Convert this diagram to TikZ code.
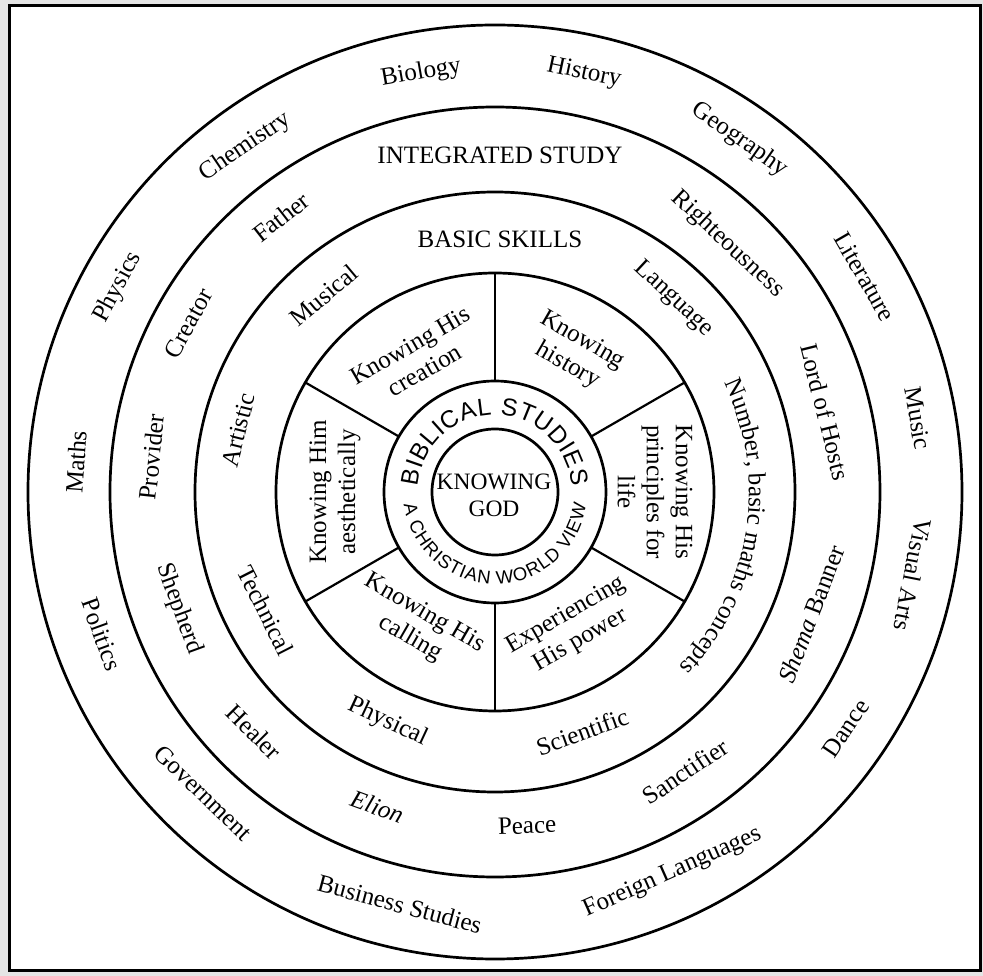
\documentclass[tikz,border=0pt]{standalone}
\usepackage{fontspec}
\setmainfont{Liberation Serif}
\setsansfont{Liberation Sans}
\usetikzlibrary{decorations.text}
\tikzset{
  ring/.style={line width=2.7pt},
  spoke/.style={line width=2.2pt},
  lbl/.style={font=\fontsize{25}{29}\selectfont, inner sep=0pt, align=center},
  godlbl/.style={font=\fontsize{23.5}{27}\selectfont, inner sep=0pt, align=center},
}
\begin{document}
\begin{tikzpicture}[x=1pt,y=1pt]
% background and frame
\fill[black!10] (-495,-484) rectangle (488,492);
\useasboundingbox (-495,-484) rectangle (488,492);
\draw[fill=white, line width=3pt] (-485.5,-479) rectangle (485.5,486.5);
% rings
\coordinate (c) at (0,0);
\draw[ring] (c) circle[radius=467];
\draw[ring] (c) circle[radius=385];
\draw[ring] (c) circle[radius=300];
\draw[ring] (c) circle[radius=219];
\draw[ring] (c) circle[radius=111];
\draw[ring] (c) circle[radius=63];
\foreach \a in {30,90,...,330} \draw[spoke] (\a:111) -- (\a:219);
% outer ring
\node[lbl, rotate=10]  (biology)   at (100:425.5) {Biology};
\node[lbl, rotate=-12] (history)   at (78:428)    {History};
\node[lbl, rotate=34]  (chemistry) at (125.9:426) {Chemistry};
\node[lbl, rotate=-35] (geography) at (55.2:429)  {Geography};
\node[lbl, rotate=61.5](physics)   at (151.5:429) {Physics};
\node[lbl, rotate=-60] (literature) at (30.2:428) {Literature};
\node[lbl, rotate=86]  (maths)     at (175.9:420) {Maths};
\node[lbl, rotate=-80] (music)     at (9.9:429)   {Music};
\node[lbl, rotate=-101](visual)    at (-11.2:426) {Visual Arts};
\node[lbl, rotate=-70] (politics)  at (199.9:418) {Politics};
\node[lbl, rotate=56]  (dance)     at (-34:423)   {Dance};
\node[lbl, rotate=-44] (government) at (225.9:419) {Government};
\node[lbl, rotate=-15] (business)  at (257:423)   {Business Studies};
\node[lbl, rotate=24]  (foreign)   at (295:420)   {Foreign Languages};
% integrated study ring
\node[lbl] (integrated) at (5,337) {INTEGRATED STUDY};
\node[lbl, rotate=38]  (father)    at (127.9:348.5) {Father};
\node[lbl, rotate=-43] (righteous) at (46.8:340)  {Righteousness};
\node[lbl, rotate=61]  (creator)   at (151.2:350) {Creator};
\node[lbl, rotate=-76] (lord)      at (13.6:340)  {Lord of Hosts};
\node[lbl, rotate=84]  (provider)  at (174.2:345) {Provider};
\node[lbl, rotate=69]  (shema)     at (-21.1:339) {{\itshape Shema} Banner};
\node[lbl, rotate=-70] (shepherd)  at (200.3:337) {Shepherd};
\node[lbl, rotate=-45] (healer)    at (224.9:340) {Healer};
\node[lbl, rotate=-20] (elion)     at (249.5:336) {\itshape Elion};
\node[lbl, rotate=2]   (peace)     at (275.5:335) {Peace};
\node[lbl, rotate=34]  (sanctifier) at (304.2:338) {Sanctifier};
% basic skills ring
\node[lbl] (basic) at (5,253) {BASIC SKILLS};
\node[lbl, rotate=40]  (musical)   at (131:261)   {Musical};
\node[lbl, rotate=-43] (language)  at (47.2:263)  {Language};
\node[lbl, rotate=76]  (artistic)  at (166.4:264) {Artistic};
\node[lbl, rotate=-63] (technical) at (207.3:258) {Technical};
\node[lbl, rotate=-25] (physical)  at (245:254)   {Physical};
\node[lbl, rotate=20]  (scientific) at (290:255)  {Scientific};
\path[decorate, decoration={text along path, text align=center,
  text={|\fontsize{25}{25}\selectfont|Number, basic maths concepts}}]
  (41:254) arc[start angle=41, end angle=-59, radius=254];
% sectors
\node[lbl, rotate=30]  (creation)   at (120:155) {Knowing His\\creation};
\node[lbl, rotate=-30] (khistory)   at (60:160)  {Knowing\\history};
\node[lbl, rotate=-90] (principles) at (0:160)   {Knowing His\\principles for\\life};
\node[lbl, rotate=30]  (power)      at (300:157) {Experiencing\\His power};
\node[lbl, rotate=-30] (calling)    at (240:155) {Knowing His\\calling};
\node[lbl, rotate=90]  (aesthetic)  at (180:160) {Knowing Him\\aesthetically};
% biblical studies
\path[decorate, decoration={text along path, text align={fit to path},
  text={|\sffamily\fontsize{24.5}{24.5}\selectfont|BIBLICAL STUDIES}}]
  (176:77) arc[start angle=176, end angle=4, radius=77];
\path[decorate, decoration={text along path, text align={fit to path},
  text={|\sffamily\fontsize{18.5}{18.5}\selectfont|A CHRISTIAN WORLD VIEW}}]
  (188:92) arc[start angle=188, end angle=352, radius=92];
\node[godlbl] (god) at (-1,-3) {KNOWING\\GOD};
\end{tikzpicture}
\end{document}
